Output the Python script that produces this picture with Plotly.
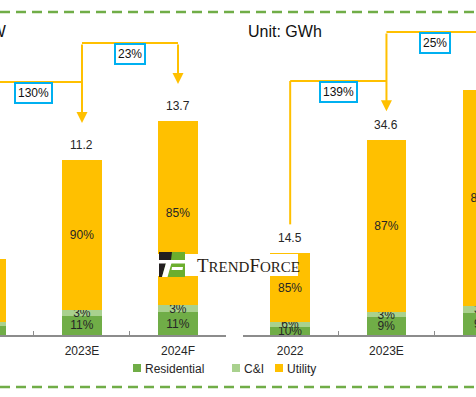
import plotly.graph_objects as go

W, H = 476, 397

# ---------------- data ----------------
categories = ["2022", "2023E", "2024F"]
series_names = ["Residential", "C&I", "Utility"]

# Left panel (Unit: GW)
left_totals = [4.87, 11.2, 13.7]
left_total_labels = ["4.9", "11.2", "13.7"]
left_residential = [0.58, 1.23, 1.45]
left_ci = [0.26, 0.34, 0.45]
left_utility = [4.03, 9.63, 11.80]
left_res_labels = ["12%", "11%", "11%"]
left_ci_labels = ["5%", "3%", "3%"]
left_util_labels = ["83%", "90%", "85%"]
left_growth = ["130%", "23%"]

# Right panel (Unit: GWh)
right_totals = [14.5, 34.6, 43.6]
right_total_labels = ["14.5", "34.6", "43.6"]
right_residential = [1.45, 3.11, 3.92]
right_ci = [0.87, 1.04, 1.31]
right_utility = [12.18, 30.45, 38.37]
right_res_labels = ["10%", "9%", "9%"]
right_ci_labels = ["6%", "3%", "3%"]
right_util_labels = ["85%", "87%", "88%"]
right_growth = ["139%", "25%"]

# ---------------- style ----------------
C_RES = "#70AD47"
C_CI = "#A9D18E"
C_UTIL = "#FFC000"
C_ARROW = "#FFC000"
C_BOX = "#00B0F0"
C_TEXT = "#262626"
FONT = "Liberation Sans, Arial, sans-serif"
AXIS_PX = 335          # pixel row of both x axis lines
BAR_W = 0.41


def px_x(px):
    return px / W


def px_y(py):
    return 1 - py / H


fig = go.Figure()

panels = [
    dict(xa="x", ya="y", res=left_residential, ci=left_ci, util=left_utility,
         rl=left_res_labels, cl=left_ci_labels, ul=left_util_labels),
    dict(xa="x2", ya="y2", res=right_residential, ci=right_ci, util=right_utility,
         rl=right_res_labels, cl=right_ci_labels, ul=right_util_labels),
]
for p in panels:
    for vals, labels, color, name in [
        (p["res"], p["rl"], C_RES, series_names[0]),
        (p["ci"], p["cl"], C_CI, series_names[1]),
        (p["util"], p["ul"], C_UTIL, series_names[2]),
    ]:
        fig.add_trace(go.Bar(
            x=categories, y=vals, name=name, xaxis=p["xa"], yaxis=p["ya"],
            marker=dict(color=color, line=dict(width=0)),
            width=BAR_W, text=labels, textposition="inside",
            insidetextanchor="middle", constraintext="none", textangle=0,
            insidetextfont=dict(family=FONT, size=12, color=C_TEXT),
            showlegend=False, hoverinfo="skip",
        ))

left_scale = 15.62   # px per GW
right_scale = 5.63   # px per GWh

xaxis_common = dict(
    type="category", showgrid=False, zeroline=False,
    showline=True, linecolor="#8c8c8c", linewidth=2,
    ticks="inside", tickson="boundaries", ticklen=4, tickcolor="#8c8c8c",
    tickfont=dict(family=FONT, size=12, color=C_TEXT), ticklabelstandoff=4,
    fixedrange=True,
)
yaxis_common = dict(visible=False, domain=[1 - AXIS_PX / H, 1], fixedrange=True)

fig.update_layout(
    width=W, height=H,
    margin=dict(l=0, r=0, t=0, b=0),
    paper_bgcolor="white", plot_bgcolor="white",
    barmode="stack", bargap=0.59,
    showlegend=False,
    xaxis=dict(xaxis_common, domain=[0, px_x(226)], range=[0.146, 2.5], anchor="y"),
    yaxis=dict(yaxis_common, range=[0, AXIS_PX / left_scale], anchor="x"),
    xaxis2=dict(xaxis_common, domain=[px_x(243), 1], range=[-0.49, 1.93], anchor="y2"),
    yaxis2=dict(yaxis_common, range=[0, AXIS_PX / right_scale], anchor="x2"),
)

shapes = []
annotations = []

# dashed frame lines
for py in (12, 387):
    shapes.append(dict(type="line", xref="paper", yref="paper", x0=0, x1=1,
                       y0=px_y(py), y1=px_y(py),
                       line=dict(color="#70AD47", width=2.5, dash="10px,6px")))

# totals above bars
for xa, ya, totals, labels in [("x", "y", left_totals, left_total_labels),
                               ("x2", "y2", right_totals, right_total_labels)]:
    for i, (t, lab) in enumerate(zip(totals, labels)):
        annotations.append(dict(xref=xa, yref=ya, x=i, y=t, text=lab, showarrow=False,
                                yshift=15, font=dict(family=FONT, size=12, color=C_TEXT)))

# growth brackets
def brackets(xa, totals, scale, growth, levels_px, tip_gap):
    tips = [AXIS_PX - t * scale - tip_gap for t in totals]
    for i, g in enumerate(growth):
        lv = levels_px[i]
        shapes.append(dict(type="line", xref=xa, yref="paper", x0=i, x1=i + 1,
                           y0=px_y(lv), y1=px_y(lv),
                           line=dict(color=C_ARROW, width=2)))
        annotations.append(dict(xref=xa, yref="paper", x=i + 0.5, y=px_y(lv), text=g,
                                showarrow=False, bgcolor="white", bordercolor=C_BOX,
                                borderwidth=2, borderpad=2,
                                font=dict(family=FONT, size=12, color="#111111")))
    for j in range(len(totals)):
        touching = [levels_px[k] for k in (j - 1, j) if 0 <= k < len(growth)]
        top = min(touching)
        if j == 0:
            shapes.append(dict(type="line", xref=xa, yref="paper", x0=j, x1=j,
                               y0=px_y(top), y1=px_y(tips[j]),
                               line=dict(color=C_ARROW, width=2)))
        else:
            annotations.append(dict(xref=xa, yref="paper", x=j, y=px_y(tips[j]),
                                    text="", showarrow=True, axref="pixel", ayref="pixel",
                                    ax=0, ay=-(tips[j] - top), arrowhead=2, arrowsize=1.1,
                                    arrowwidth=2, arrowcolor=C_ARROW, standoff=0))

brackets("x", left_totals, left_scale, left_growth, [82, 43], 37)
brackets("x2", right_totals, right_scale, right_growth, [81, 32], 29)

# unit labels
annotations.append(dict(xref="paper", yref="paper", x=px_x(246), y=px_y(32),
                        xanchor="left", yanchor="middle", text="Unit: GWh", showarrow=False,
                        font=dict(family=FONT, size=16, color="#111111")))
annotations.append(dict(xref="paper", yref="paper", x=px_x(-61), y=px_y(32),
                        xanchor="left", yanchor="middle", text="Unit: GW", showarrow=False,
                        font=dict(family=FONT, size=16, color="#111111")))

# legend (manual)
legend_colors = [C_RES, C_CI, C_UTIL]
legend_px = [133, 232, 275]
for name, col, lx in zip(series_names, legend_colors, legend_px):
    shapes.append(dict(type="rect", xref="paper", yref="paper",
                       x0=px_x(lx), x1=px_x(lx + 8), y0=px_y(372), y1=px_y(364),
                       fillcolor=col, line=dict(width=0)))
    annotations.append(dict(xref="paper", yref="paper", x=px_x(lx + 10), y=px_y(368.5),
                            xanchor="left", yanchor="middle", text=name, showarrow=False,
                            font=dict(family=FONT, size=12, color=C_TEXT)))

# TrendForce watermark
shapes.append(dict(type="rect", xref="paper", yref="paper",
                   x0=px_x(158), x1=px_x(298), y0=px_y(276), y1=px_y(254),
                   fillcolor="white", line=dict(width=0)))
def poly(pts, color):
    d = "M" + " L".join(f"{px_x(a):.5f},{px_y(b):.5f}" for a, b in pts) + " Z"
    shapes.append(dict(type="path", xref="paper", yref="paper", path=d,
                       fillcolor=color, line=dict(width=0)))
poly([(159, 252), (185, 252), (185, 277), (159, 277)], "#6cae2e")
poly([(159, 252), (172, 252), (171, 260), (159, 260)], "#231f20")
poly([(159, 263), (166, 263), (162, 277), (159, 277)], "#231f20")
poly([(159, 260), (185, 260), (185, 263.5), (159, 263.5)], "white")
poly([(166, 263), (171.5, 263), (167.5, 277), (162, 277)], "white")
poly([(172, 267), (183, 267), (182.5, 270), (171.5, 270)], "white")
annotations.append(dict(
    xref="paper", yref="paper", x=px_x(195), y=px_y(265.5), xanchor="left", yanchor="middle",
    showarrow=False,
    text=('<span style="font-size:19px">T</span><span style="font-size:15px">REND</span>'
          '<span style="font-size:19px">F</span><span style="font-size:15px">ORCE</span>'),
    font=dict(family="Liberation Serif, Times New Roman, serif", size=15, color="#2a1c14")))

fig.update_layout(shapes=shapes, annotations=annotations)
fig.write_html("out.html", config={"displayModeBar": False, "staticPlot": True},
               post_script="document.body.style.margin='0';document.body.style.overflow='hidden';")
